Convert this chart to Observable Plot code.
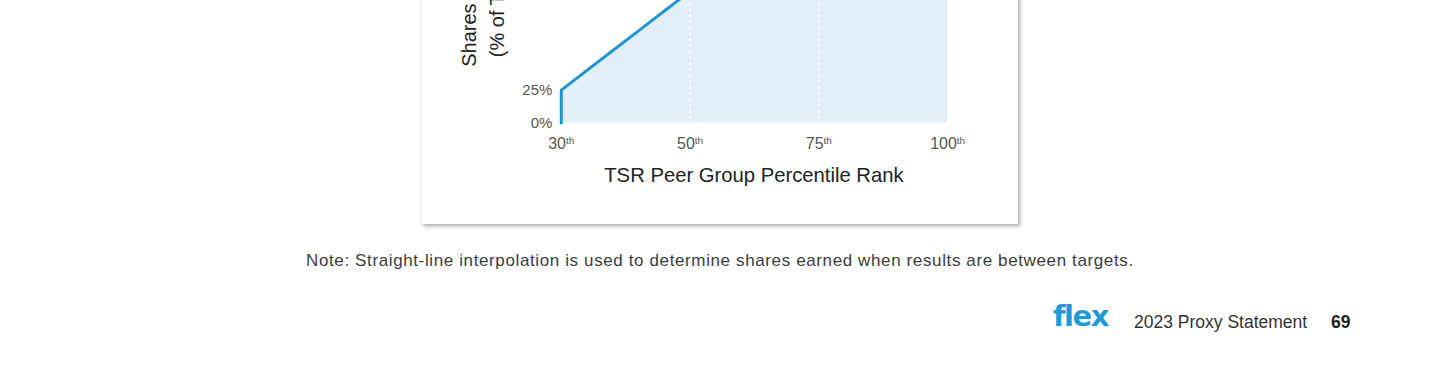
<!DOCTYPE html>
<html>
<head>
<meta charset="utf-8">
<script src="https://cdn.jsdelivr.net/npm/d3@7"></script>
<script src="https://cdn.jsdelivr.net/npm/@observablehq/plot@0.6"></script>
<style>
  html, body { margin:0; padding:0; background:#fff; width:1440px; height:376px; overflow:hidden;
    font-family:"Liberation Sans", Arial, sans-serif; }
  #card { position:absolute; left:421px; top:-161px; width:597px; height:385px; background:#fff;
    box-shadow: 2px 2px 4px rgba(0,0,0,0.35); border-left:1px solid #eee; box-sizing:border-box; }
  #card svg { position:absolute; left:-1px; top:0; }
  #note { position:absolute; left:306px; top:251px; font-size:17px; letter-spacing:0.62px; color:#3c3c3c; white-space:nowrap; line-height:20px; }
  #logo { position:absolute; left:1053px; top:299px; font-size:29px; font-weight:bold; color:#1e9bd7;
    letter-spacing:-1.5px; line-height:34px; font-family:"DejaVu Sans", sans-serif; }
  #pub { position:absolute; left:1134px; top:312px; font-size:17.5px; color:#333; white-space:nowrap; line-height:20px; }
  #page { position:absolute; left:1331px; top:312px; font-size:17.5px; font-weight:bold; color:#222; line-height:20px; }
</style>
</head>
<body>
<div id="card"></div>
<div id="note"></div>
<div id="logo"></div>
<div id="pub"></div>
<div id="page"></div>
<script>
// ---- data ----
const ranks = ["30th", "50th", "75th", "100th"];          // x categories / tick labels
const lineRanks = ["30th", "30th", "50th", "75th", "100th"]; // payout curve points
const lineShares = [0, 25, 100, 200, 200];                  // % of target
const areaRanks = ["30th", "50th", "75th", "100th"];
const areaShares = [25, 100, 200, 200];
const yTicks = [0, 25];
const gridRanks = ["50th", "75th"];
const xTitle = "TSR Peer Group Percentile Rank";
const yTitle = "Shares Earned\n(% of Target)";
const noteText = "Note: Straight-line interpolation is used to determine shares earned when results are between targets.";
const logoText = "flex";
const pubText = "2023 Proxy Statement";
const pageText = "69";

const lineData = lineRanks.map((r, i) => ({rank: r, share: lineShares[i]}));
const areaData = areaRanks.map((r, i) => ({rank: r, share: areaShares[i]}));

const chart = Plot.plot({
  width: 597, height: 385,
  marginLeft: 139, marginRight: 70, marginTop: 20, marginBottom: 101,
  style: {background: "transparent", fontFamily: "'Liberation Sans', Arial, sans-serif", color: "#555", overflow: "visible"},
  x: {type: "point", domain: ranks, padding: 0, label: null},
  y: {domain: [0, 200], label: null},
  marks: [
    Plot.areaY(areaData, {x: "rank", y: "share", fill: "#e3eef9", curve: "linear"}),
    Plot.ruleX(gridRanks, {stroke: "#fff", strokeWidth: 2, strokeDasharray: "2,4"}),
    Plot.line(lineData, {x: "rank", y: "share", stroke: "#1b95d3", strokeWidth: 3, curve: "linear", strokeLinejoin: "miter"}),
    Plot.axisX({tickSize: 0, tickPadding: 15, fontSize: 16, fill: "#555", label: null}),
    Plot.axisY({ticks: yTicks, tickFormat: d => d + "%", tickSize: 0, tickPadding: 8, fontSize: 15, fill: "#555", label: null}),
    Plot.text([xTitle], {frameAnchor: "bottom", dy: 53, lineAnchor: "middle", textAnchor: "middle", fontSize: 20.3, fill: "#222"}),
    Plot.text([yTitle], {frameAnchor: "left", dx: -79, dy: 9, rotate: -90, textAnchor: "middle", lineAnchor: "middle", lineHeight: 1.4, fontSize: 20, fill: "#222"})
  ]
});

// superscript ordinal suffixes on x tick labels
d3.select(chart).selectAll('g[aria-label="x-axis tick label"] text').each(function() {
  const m = this.textContent.match(/^(\d+)(\D+)$/);
  if (m) {
    this.textContent = m[1];
    d3.select(this).append("tspan").attr("font-size", 10).attr("dy", "-0.55em").text(m[2]);
  }
});

document.getElementById("card").appendChild(chart);
document.getElementById("note").textContent = noteText;
document.getElementById("logo").textContent = logoText;
document.getElementById("pub").textContent = pubText;
document.getElementById("page").textContent = pageText;
</script>
</body>
</html>
